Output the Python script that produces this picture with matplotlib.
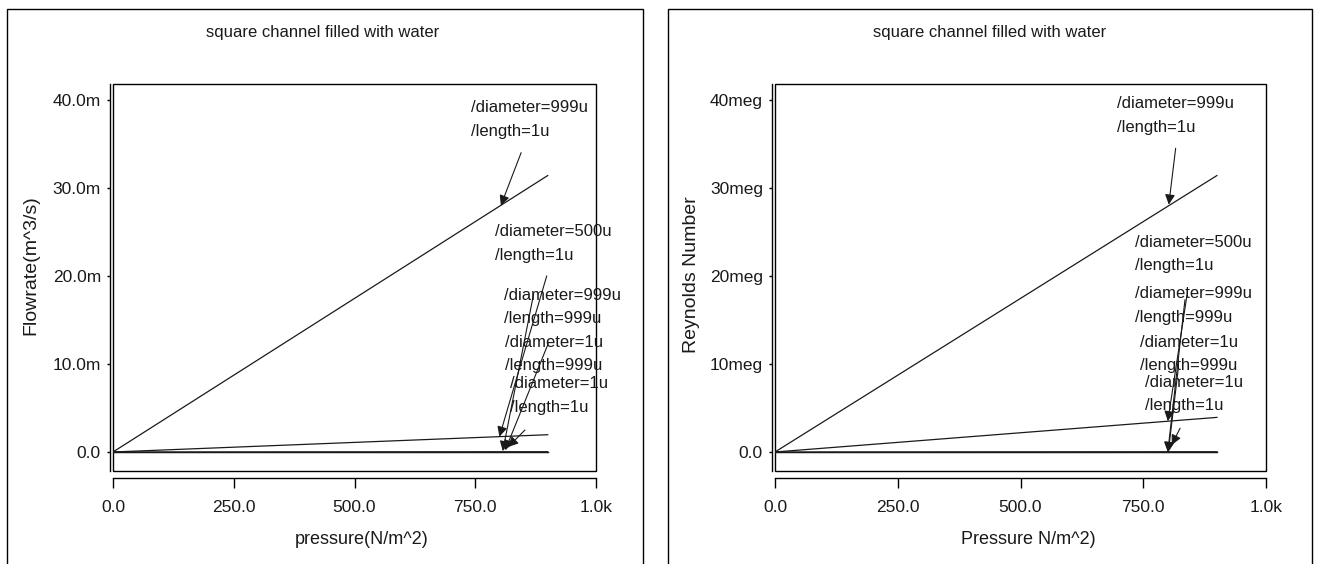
import numpy as np
import matplotlib
matplotlib.use("Agg")
import matplotlib.pyplot as plt
from matplotlib.patches import Rectangle
from matplotlib.ticker import FuncFormatter

plt.rcParams['font.family'] = ['Liberation Sans', 'DejaVu Sans']
plt.rcParams['font.size'] = 12

# data
pressure = [0.0, 900.0]
flow_end = [31.4e-3, 1.96e-3, 0.03e-3, 0.0, 0.0]       # m^3/s at 900 N/m^2
reynolds_end = [31.4e6, 3.93e6, 0.03e6, 0.0, 0.0]      # at 900 N/m^2
labels = ["/diameter=999u\n/length=1u",
          "/diameter=500u\n/length=1u",
          "/diameter=999u\n/length=999u",
          "/diameter=1u\n/length=999u",
          "/diameter=1u\n/length=1u"]
x_ticks = [0, 250, 500, 750, 1000]
flow_ticks = [0, 10e-3, 20e-3, 30e-3, 40e-3]
re_ticks = [0, 10e6, 20e6, 30e6, 40e6]

# label placement (data coords) and arrows (tail -> head)
flow_text_x = [741, 791, 810, 812, 822]
flow_text_y = [37.8e-3, 23.7e-3, 16.45e-3, 11.15e-3, 6.4e-3]
flow_arrow_tail = [(845, 34.0e-3), (898, 20.0e-3), (871, 18.0e-3), (901, 12.3e-3), (853, 2.5e-3)]
flow_arrow_head = [(803, 28.0e-3), (800, 1.74e-3), (807, 0.1e-3), (812, 0.2e-3), (818, 0.57e-3)]

re_text_x = [696, 734, 734, 743, 754]
re_text_y = [38.25e6, 22.5e6, 16.65e6, 11.15e6, 6.6e6]
re_arrow_tail = [(816, 34.5e6), (839, 17.8e6), (835, 17.3e6), (821, 9.3e6), (825, 2.7e6)]
re_arrow_head = [(802, 28.1e6), (800, 3.5e6), (800, 0.0), (801, 0.0), (808, 0.8e6)]

W, H = 1317, 564
fig = plt.figure(figsize=(W / 100, H / 100), dpi=100)
ink = '#1a1a1a'


def fx(px):
    return px / W


def fy(py):
    return 1 - py / H


def xfmt(v, p):
    return f'{v/1000:.1f}k' if v >= 1000 else f'{v:.1f}'


def make_panel(left, right, ylim, yticks, yfmt, ends, tx, ty, tails, heads):
    ax = fig.add_axes([fx(left), fy(471), fx(right) - fx(left), fy(84) - fy(471)])
    for e in ends:
        ax.plot(pressure, [0.0, e], color=ink, lw=0.9)
    for lab, x, y in zip(labels, tx, ty):
        ax.text(x, y, lab, ha='left', va='center', fontsize=12, linespacing=1.72, color=ink)
    for t, h in zip(tails, heads):
        ax.annotate('', xy=h, xytext=t,
                    arrowprops=dict(arrowstyle='-|>', color=ink, lw=0.8,
                                    mutation_scale=15, shrinkA=0, shrinkB=0))
    ax.set_xlim(0, 1000)
    ax.set_ylim(*ylim)
    ax.set_xticks(x_ticks)
    ax.set_yticks(yticks)
    ax.xaxis.set_major_formatter(FuncFormatter(xfmt))
    ax.yaxis.set_major_formatter(FuncFormatter(yfmt))
    ax.spines['top'].set_visible(False)
    ax.spines['right'].set_visible(False)
    ax.spines['left'].set_position(('outward', 2.2))
    ax.spines['bottom'].set_position(('outward', 5))
    ax.spines['left'].set_linewidth(1.0)
    ax.spines['bottom'].set_linewidth(1.0)
    ax.tick_params(axis='y', direction='out', length=2.5, width=1.0, pad=4,
                   labelsize=12.5, labelcolor=ink)
    ax.tick_params(axis='x', direction='out', length=7, width=1.0, pad=9,
                   labelsize=12.5, labelcolor=ink)
    ax.add_patch(Rectangle((0, 0), 1, 1, transform=ax.transAxes, fill=False,
                           lw=1.0, color='black', clip_on=False))
    return ax


make_panel(113, 596, (-2.16e-3, 41.8e-3), flow_ticks,
           lambda v, p: '0.0' if v == 0 else f'{v*1e3:.1f}m',
           flow_end, flow_text_x, flow_text_y, flow_arrow_tail, flow_arrow_head)
make_panel(775, 1266, (-2.16e6, 41.8e6), re_ticks,
           lambda v, p: '0.0' if v == 0 else f'{v/1e6:.0f}meg',
           reynolds_end, re_text_x, re_text_y, re_arrow_tail, re_arrow_head)

# titles and axis labels
fig.text(fx(323), fy(33), 'square channel filled with water', ha='center', va='center', fontsize=12, color=ink)
fig.text(fx(990), fy(33), 'square channel filled with water', ha='center', va='center', fontsize=12, color=ink)
fig.text(fx(362), fy(539), 'pressure(N/m^2)', ha='center', va='center', fontsize=13, color=ink)
fig.text(fx(1028), fy(539), 'Pressure N/m^2)', ha='center', va='center', fontsize=13, color=ink)
fig.text(fx(31), fy(265), 'Flowrate(m^3/s)', ha='center', va='center', rotation=90, fontsize=14, color=ink)
fig.text(fx(691), fy(275), 'Reynolds Number', ha='center', va='center', rotation=90, fontsize=14, color=ink)

# outer panel borders
for l, r in [(7, 643), (668, 1312)]:
    fig.patches.append(Rectangle((fx(l), -0.01), fx(r) - fx(l), fy(9) + 0.01,
                                 transform=fig.transFigure, fill=False,
                                 lw=1.0, color='black'))

fig.savefig('out.png', dpi=100)
